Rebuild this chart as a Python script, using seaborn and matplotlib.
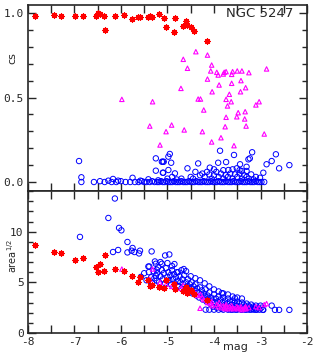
import matplotlib
matplotlib.use('Agg')
import matplotlib.pyplot as plt
import seaborn as sns
from matplotlib.ticker import MultipleLocator, FuncFormatter

# ---- red asterisks (cs ~ 1) ----
star_mag = [-7.85, -7.44, -7.28, -6.99, -6.81, -6.54, -6.49, -6.45, -6.36, -6.34,
            -6.13, -5.93, -5.77, -5.63, -5.59, -5.41, -5.38, -5.34, -5.18, -5.08,
            -5.03, -4.84, -4.86, -4.66, -4.60, -4.57, -4.50, -4.44, -4.14]
star_cs = [0.984, 0.988, 0.984, 0.984, 0.984, 0.984, 0.998, 0.993, 0.984, 0.90,
           0.98, 0.987, 0.964, 0.974, 0.974, 0.978, 0.98, 0.978, 0.994, 0.968,
           0.92, 0.968, 0.89, 0.923, 0.953, 0.929, 0.919, 0.895, 0.834]
star_area = [8.64, 7.99, 7.92, 7.20, 7.39, 6.47, 5.97, 6.80, 6.14, 7.69,
             6.34, 6.11, 5.61, 5.02, 5.48, 5.25, 4.65, 4.72, 4.52, 4.4,
             5.2, 4.3, 4.8, 4.1, 4.5, 3.9, 4.2, 3.8, 3.3]

# ---- magenta triangles ----
tri_mag = [-5.98, -5.32, -4.39, -4.14, -4.66, -4.57, -4.05, -4.07, -3.94, -3.91,
           -3.78, -3.74, -3.80, -3.62, -3.60, -3.50, -3.40, -3.25, -2.87, -4.14,
           -3.89, -3.62, -3.42, -3.32, -3.43, -4.71, -4.04, -3.67, -4.34, -4.29,
           -3.74, -3.63, -3.71, -3.03, -3.10, -4.22, -3.48, -3.33, -3.74, -3.51,
           -3.34, -4.91, -5.38, -3.76, -3.31, -4.64, -5.03, -4.25, -2.92, -3.85,
           -4.05, -5.16, -3.57]
tri_cs = [0.489, 0.475, 0.771, 0.751, 0.726, 0.673, 0.692, 0.657, 0.649, 0.633,
          0.649, 0.653, 0.639, 0.637, 0.653, 0.657, 0.657, 0.647, 0.669, 0.609,
          0.574, 0.584, 0.60, 0.558, 0.534, 0.554, 0.534, 0.519, 0.491, 0.491,
          0.489, 0.475, 0.45, 0.475, 0.456, 0.426, 0.41, 0.416, 0.383, 0.386,
          0.373, 0.337, 0.331, 0.327, 0.331, 0.308, 0.298, 0.298, 0.284, 0.262,
          0.237, 0.219, 0.215]
tri_mag_b = [-5.98, -5.32, -5.38, -5.16, -5.03, -4.91, -4.71, -4.66, -4.64, -4.57,
             -4.39, -4.34, -4.29, -4.25, -4.22, -4.14, -4.14, -4.07, -4.05, -4.04,
             -3.94, -3.91, -3.89, -3.85, -3.80, -3.78, -3.76, -3.74, -3.74, -3.71,
             -3.67, -3.63, -3.62, -3.60, -3.57, -3.51, -3.50, -3.48, -3.43, -3.42,
             -3.40, -3.34, -3.33, -3.32, -3.31, -3.25, -3.10, -3.03, -2.92, -2.87,
             -4.30]
tri_area = [6.31, 6.31, 5.3, 5.0, 4.8, 4.6, 4.4, 4.7, 4.2, 4.3,
            3.9, 3.7, 3.8, 3.5, 3.3, 3.2, 3.0, 2.9, 3.1, 2.7,
            2.8, 2.6, 3.0, 2.5, 2.7, 2.5, 2.4, 2.8, 2.6, 2.4,
            2.6, 2.4, 2.7, 2.5, 2.4, 2.6, 2.4, 2.5, 2.4, 2.6,
            2.3, 2.5, 2.4, 2.6, 2.4, 2.5, 2.6, 2.5, 2.8, 2.9,
            2.44]

# ---- blue circles, top panel ----
circ_mag = [-6.90, -6.85, -6.27, -6.17, -6.06, -5.75, -5.58, -5.41, -5.25, -5.12,
            -5.08, -5.25, -5.10, -4.95, -4.98, -5.10, -4.92, -4.98, -5.09, -4.84,
            -4.57, -4.34, -3.87, -3.57, -3.18, -3.26, -3.23, -3.44, -3.74, -3.91,
            -3.30, -3.51, -2.87, -2.76, -2.67, -2.60, -2.38, -2.94, -3.01, -4.09,
            -3.69, -3.40, -3.30,
            -4.50, -4.45, -4.30, -4.25, -4.20, -4.15, -4.10, -4.05, -4.00, -3.95,
            -3.90, -3.85, -3.80, -3.75, -3.70, -3.65, -3.60, -3.55, -3.50, -3.45,
            -3.40, -3.35, -3.30, -3.25, -3.20, -3.15, -3.10, -4.70, -4.80, -4.90,
            -5.00, -5.20, -4.40, -4.00, -3.80, -3.60, -3.45,
            -6.85, -6.58, -6.45, -6.35, -6.20, -6.10, -6.00, -5.90, -5.80, -5.70,
            -5.62, -5.55, -5.50, -5.45, -5.38, -5.33, -5.28, -5.22, -5.18, -5.14,
            -5.10, -5.06, -5.02, -4.98, -4.94, -4.90, -4.86, -4.82, -4.78, -4.74,
            -4.70, -4.66, -4.62, -4.58, -4.54, -4.50, -4.46, -4.42, -4.38, -4.34,
            -4.30, -4.26, -4.22, -4.18, -4.14, -4.10, -4.06, -4.02, -3.98, -3.94,
            -3.90, -3.86, -3.82, -3.78, -3.74, -3.70, -3.66, -3.62, -3.58, -3.54,
            -3.50, -3.46, -3.42, -3.38, -3.34, -3.30, -3.26, -3.22, -3.18, -3.14,
            -3.10, -3.06, -3.02, -2.98, -2.92]
circ_cs = [0.124, 0.028, 0.008, 0.018, 0.008, 0.025, 0.008, 0.016, 0.14, 0.12,
           0.12, 0.067, 0.055, 0.166, 0.15, 0.12, 0.114, 0.071, 0.055, 0.051,
           0.081, 0.11, 0.185, 0.16, 0.176, 0.134, 0.14, 0.105, 0.118, 0.114,
           0.09, 0.081, 0.105, 0.124, 0.164, 0.081, 0.10, 0.055, 0.025, 0.085,
           0.071, 0.065, 0.065,
           0.03, 0.02, 0.04, 0.05, 0.03, 0.06, 0.045, 0.02, 0.04, 0.06,
           0.03, 0.05, 0.02, 0.04, 0.03, 0.05, 0.02, 0.045, 0.03, 0.05,
           0.02, 0.04, 0.03, 0.02, 0.045, 0.015, 0.03, 0.02, 0.015, 0.03,
           0.02, 0.01, 0.06, 0.075, 0.07, 0.075, 0.07,
           0.0, 0.0, 0.005, 0.0, 0.0, 0.0, 0.005, 0.0, 0.0, 0.0,
           0.0, 0.005, 0.0, 0.0, 0.0, 0.005, 0.0, 0.0, 0.0, 0.005,
           0.0, 0.0, 0.005, 0.0, 0.0, 0.0, 0.005, 0.0, 0.0, 0.0,
           0.005, 0.0, 0.0, 0.0, 0.005, 0.0, 0.0, 0.0, 0.005, 0.0,
           0.0, 0.0, 0.005, 0.0, 0.0, 0.0, 0.005, 0.0, 0.0, 0.0,
           0.005, 0.0, 0.0, 0.0, 0.005, 0.0, 0.0, 0.0, 0.005, 0.0,
           0.0, 0.0, 0.005, 0.0, 0.0, 0.0, 0.005, 0.0, 0.0, 0.0,
           0.005, 0.0, 0.0, 0.0, 0.0]

# ---- blue circles, bottom panel ----
circ_mag_b = [-6.13, -6.27, -6.04, -5.99, -6.88, -5.86, -6.06, -6.17, -5.86, -5.75,
              -5.77, -5.71, -5.59, -5.61, -5.34, -5.27, -5.25, -5.41, -5.23, -5.57,
              -5.25, -5.23, -5.05, -4.96, -5.12, -5.39, -4.65, -4.77,
              -3.00, -2.76, -2.69, -2.60, -2.38, -2.94, -3.55, -3.83,
              -5.30, -5.28, -5.22, -5.20, -5.18, -5.15, -5.12, -5.10, -5.08, -5.05,
              -5.03, -5.00, -4.98, -4.96, -4.94, -4.92, -4.90, -4.88, -4.86, -4.84,
              -4.82, -4.80, -4.78, -4.76, -4.74, -4.72, -4.70, -4.68, -4.66, -4.64,
              -4.62, -4.60, -4.58, -4.56, -4.54, -4.52, -4.50, -4.48, -4.46, -4.44,
              -4.42, -4.40, -4.38, -4.36, -4.34, -4.32, -4.30, -4.28, -4.26, -4.24,
              -4.22, -4.20, -4.18, -4.16, -4.14, -4.12, -4.10, -4.08, -4.06, -4.04,
              -4.02, -4.00, -3.98, -3.96, -3.94, -3.92, -3.90, -3.88, -3.86, -3.84,
              -3.82, -3.80, -3.78, -3.76, -3.74, -3.72, -3.70, -3.68, -3.66, -3.64,
              -3.62, -3.60, -3.58, -3.56, -3.54, -3.52, -3.50, -3.48, -3.46, -3.44,
              -3.42, -3.40, -3.38, -3.36, -3.34, -3.32, -3.30, -3.28, -3.26, -3.24,
              -3.22, -3.20, -3.18, -3.16, -3.14, -3.12, -3.10, -3.08, -3.05, -3.02,
              -2.98, -2.95,
              -5.15, -5.00, -4.90, -4.85, -4.70, -4.60, -4.50, -4.40, -4.30, -4.20,
              -4.10, -4.00, -3.90, -3.80, -3.70, -3.60, -3.50, -3.40,
              -5.45, -5.50, -5.40, -5.35, -5.33,
              -4.18, -4.10, -4.00, -3.90, -3.80, -3.70, -3.60, -3.50, -3.40, -3.30,
              -3.20, -3.10]
circ_area = [13.27, 11.35, 10.37, 10.13, 9.48, 8.98, 8.19, 7.99, 7.95, 8.39,
             8.12, 7.99, 8.12, 7.85, 8.05, 7.06, 6.83, 6.56, 6.24, 5.54,
             5.64, 5.18, 7.65, 7.75, 6.83, 6.56, 6.31, 6.0,
             2.7, 2.7, 2.28, 2.28, 2.28, 2.28, 3.43, 3.93,
             6.1, 5.4, 5.9, 6.5, 5.0, 5.6, 6.2, 5.3, 5.9, 4.9,
             6.4, 5.5, 6.0, 5.2, 5.7, 4.8, 6.2, 5.3, 5.8, 4.9,
             5.5, 6.0, 5.1, 4.6, 5.6, 5.0, 4.4, 5.3, 4.8, 5.7,
             4.3, 5.0, 4.6, 5.3, 4.1, 4.8, 4.4, 5.0, 3.9, 4.6,
             4.2, 4.8, 3.7, 4.4, 4.0, 3.5, 4.5, 3.8, 4.2, 3.3,
             3.9, 3.6, 4.3, 3.1, 3.7, 3.4, 4.0, 2.9, 3.5, 3.2,
             2.6, 3.8, 3.0, 3.4, 2.5, 3.1, 3.6, 2.8, 3.3, 2.4,
             3.0, 3.5, 2.7, 3.2, 2.4, 2.9, 3.4, 2.6, 3.1, 2.3,
             2.8, 3.2, 2.5, 3.0, 2.3, 2.7, 3.1, 2.4, 2.9, 2.6,
             2.3, 3.0, 2.5, 2.8, 2.3, 2.6, 2.9, 2.4, 2.7, 2.3,
             2.5, 2.8, 2.4, 2.6, 2.3, 2.5, 2.7, 2.3, 2.5, 2.3,
             2.5, 2.3,
             7.0, 6.9, 6.6, 6.8, 6.2, 6.1, 5.6, 5.4, 5.2, 4.9,
             4.6, 4.3, 4.1, 3.9, 3.8, 3.6, 3.5, 3.4,
             5.2, 5.9, 6.0, 5.5, 4.9,
             2.3, 2.3, 2.3, 2.3, 2.3, 2.3, 2.3, 2.3, 2.3, 2.3,
             2.3, 2.3]

sns.set_style('ticks')
plt.rcParams['font.family'] = ['DejaVu Sans']
plt.rcParams['axes.unicode_minus'] = False

fig = plt.figure(figsize=(3.13, 3.61), dpi=100)
ax_top = fig.add_axes([0.089, 0.471, 0.892, 0.515])
ax_bot = fig.add_axes([0.089, 0.0776, 0.892, 0.393], sharex=ax_top)

circ_kw = dict(marker='o', s=15, facecolors='none', edgecolors='blue', linewidth=0.7)
tri_kw = dict(marker='^', s=10, facecolors='none', edgecolors='magenta', linewidth=0.8)
star_kw = dict(marker=(8, 2, 0), s=16, color='red', linewidth=0.9)

# top panel
sns.scatterplot(x=circ_mag, y=circ_cs, ax=ax_top, **circ_kw)
sns.scatterplot(x=tri_mag, y=tri_cs, ax=ax_top, **tri_kw)
sns.scatterplot(x=star_mag, y=star_cs, ax=ax_top, **star_kw)

# bottom panel
sns.scatterplot(x=circ_mag_b, y=circ_area, ax=ax_bot, **circ_kw)
sns.scatterplot(x=tri_mag_b, y=tri_area, ax=ax_bot, **tri_kw)
sns.scatterplot(x=star_mag, y=star_area, ax=ax_bot, **star_kw)

ax_top.set_xlim(-8, -2)
ax_top.set_ylim(-0.053, 1.047)
ax_bot.set_ylim(0, 14)

mono = 'DejaVu Sans Mono'
for ax in (ax_top, ax_bot):
    for sp in ax.spines.values():
        sp.set_linewidth(1.2)
        sp.set_visible(True)
    ax.tick_params(which='both', direction='in', top=True, right=True,
                   width=1.0, labelsize=8, pad=3)
    ax.tick_params(which='major', length=6)
    ax.tick_params(which='minor', length=3.5)
    ax.xaxis.set_major_locator(MultipleLocator(0.5))
    ax.set_xlabel('')
    ax.set_ylabel('')

ax_top.yaxis.set_major_locator(MultipleLocator(0.5))
ax_top.yaxis.set_minor_locator(MultipleLocator(0.1))
ax_top.yaxis.set_major_formatter(FuncFormatter(lambda v, p: f'{v:.1f}'))
ax_top.tick_params(axis='x', labelbottom=False)

ax_bot.yaxis.set_major_locator(MultipleLocator(5))
ax_bot.yaxis.set_minor_locator(MultipleLocator(1))
ax_bot.xaxis.set_major_formatter(
    FuncFormatter(lambda v, p: f'{int(round(v))}' if abs(v - round(v)) < 1e-6 else ''))

for lab in ax_top.get_yticklabels() + ax_bot.get_xticklabels() + ax_bot.get_yticklabels():
    lab.set_family(mono)

ax_top.set_ylabel('cs', fontsize=8)
ax_top.yaxis.set_label_coords(-0.036, 0.715)
ax_bot.set_ylabel(r'area$^{1/2}$', fontsize=7)
ax_bot.yaxis.set_label_coords(-0.032, 0.54)
ax_bot.text(0.742, -0.10, 'mag', transform=ax_bot.transAxes, fontsize=8,
            ha='center', va='center')
ax_top.text(0.83, 0.955, 'NGC 5247', transform=ax_top.transAxes, fontsize=9.5,
            ha='center', va='center')

fig.savefig('out.png', dpi=100)
